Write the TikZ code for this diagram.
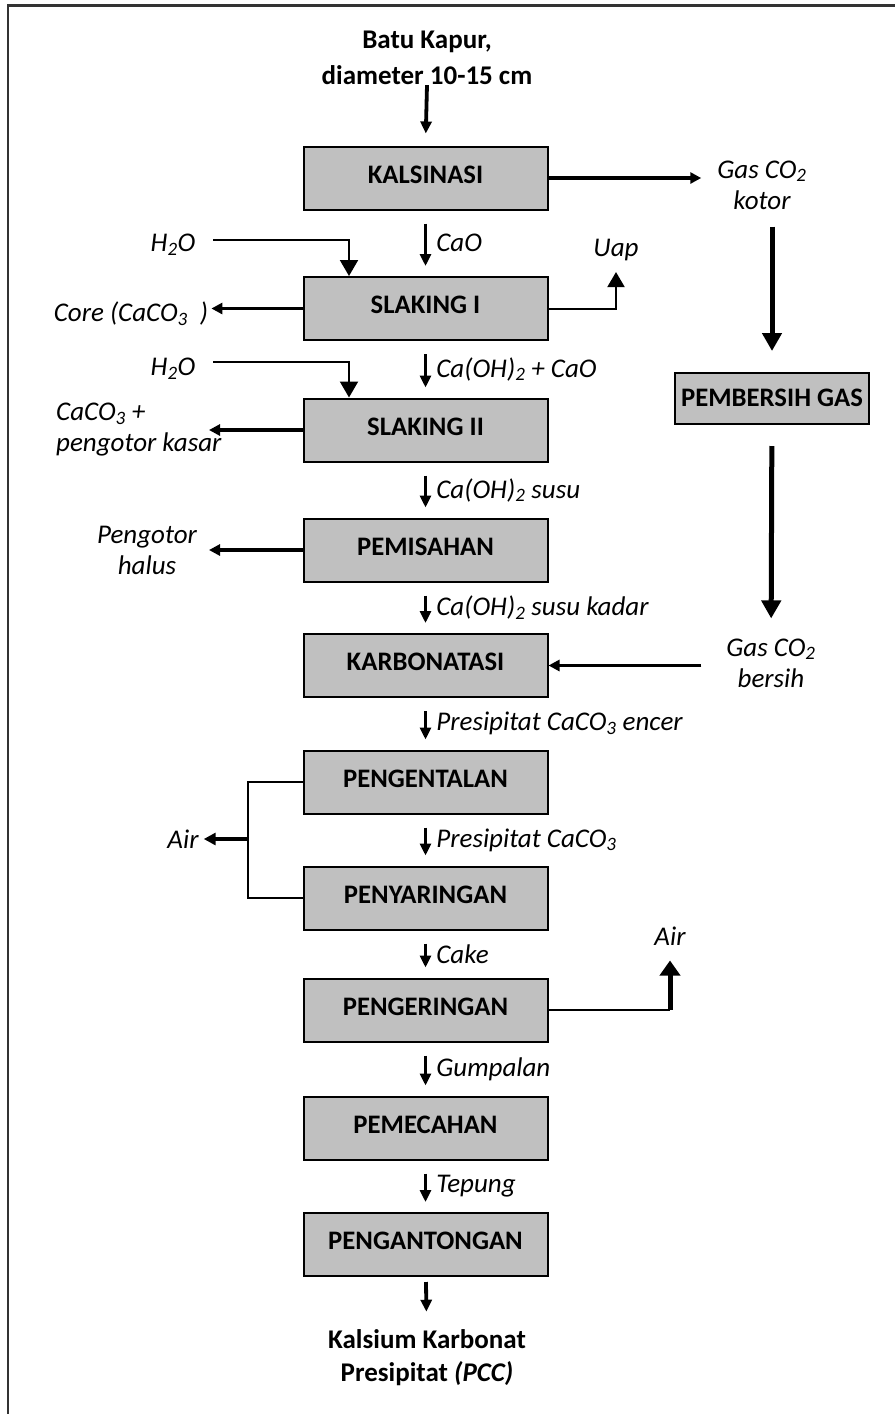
\documentclass[tikz,border=0pt]{standalone}
\usepackage{fontspec}
\setmainfont{Carlito}
\usetikzlibrary{arrows.meta,positioning,calc}
\definecolor{boxgray}{HTML}{C0C0C0}
\definecolor{frameink}{HTML}{333333}
\tikzset{
  procbox/.style={draw=black,fill=boxgray,line width=2pt,
                  minimum width=244pt,minimum height=63pt,text depth=7pt,
                  align=center,font=\fontsize{26.7}{32}\selectfont\bfseries,inner sep=4pt},
  flowlbl/.style={font=\fontsize{27}{31}\selectfont\itshape,inner sep=3pt,
                  anchor=west,xshift=6pt},
  sidelbl/.style={font=\fontsize{27}{31}\selectfont\itshape,align=center,inner sep=3pt},
  mainlbl/.style={font=\fontsize{27}{36}\selectfont\bfseries,align=center,inner sep=3pt},
  flowarr/.style={-{Triangle[length=12pt,width=11pt]},line width=3.8pt,
                  shorten <=13pt,shorten >=10pt},
  sidearr/.style={-{Triangle[length=11pt,width=11pt]},line width=3.2pt},
  feedarr/.style={-{Triangle[length=16pt,width=18pt]},line width=2pt},
  bigarr/.style={-{Triangle[length=18pt,width=19pt]},line width=5pt},
  thinline/.style={line width=2pt},
  uaparr/.style={-{Triangle[length=15pt,width=17pt]},line width=2pt},
  ventarr/.style={-{Triangle[length=15pt,width=20pt]},line width=5pt},
  airarr/.style={-{Triangle[length=12pt,width=12pt]},line width=4.5pt}
}

\begin{document}
\begin{tikzpicture}[x=1pt,y=-1pt]
  \useasboundingbox (0,0) rectangle (895,1414);
  \draw[frameink,line width=2.5pt] (8,1414) -- (8,5.5) -- (895,5.5);

  \node[mainlbl] (feed) at (427,58) {Batu Kapur,\\diameter 10-15 cm};
  \node[procbox] (kals) at (425.5,178) {KALSINASI};
  \node[procbox] (slak1) at (425.5,308.5) {SLAKING I};
  \node[procbox] (slak2) at (425.5,430) {SLAKING II};
  \node[procbox] (pemis) at (425.5,550) {PEMISAHAN};
  \node[procbox] (karb) at (425.5,665.5) {KARBONATASI};
  \node[procbox] (kent) at (425.5,782) {PENGENTALAN};
  \node[procbox] (saring) at (425.5,898) {PENYARINGAN};
  \node[procbox] (kering) at (425.5,1010) {PENGERINGAN};
  \node[procbox] (pecah) at (425.5,1128) {PEMECAHAN};
  \node[procbox] (kantong) at (425.5,1244.5) {PENGANTONGAN};
  \node[mainlbl,font=\fontsize{27}{33}\selectfont\bfseries] (pcc) at (427,1358)
    {Kalsium Karbonat\\Presipitat \textit{(PCC)}};

  \node[procbox,minimum width=194pt,minimum height=51pt,text depth=2pt] (gas) at (772,398.5) {PEMBERSIH GAS};
  \node[sidelbl] (kotor) at (762,185) {Gas CO\textsubscript{2}\\kotor};
  \node[sidelbl] (bersih) at (771,663) {Gas CO\textsubscript{2}\\bersih};

  \node[sidelbl] (h2oA) at (173,245) {H\textsubscript{2}O};
  \node[sidelbl] (h2oB) at (173,369) {H\textsubscript{2}O};
  \node[sidelbl] (core) at (131,314) {Core (CaCO\textsubscript{3}\ \ )};
  \node[sidelbl,align=left,anchor=west] (kasar) at (53,430) {CaCO\textsubscript{3} +\\pengotor kasar};
  \node[sidelbl] (halus) at (147,550) {Pengotor\\halus};
  \node[sidelbl] (uap) at (616,250) {Uap};
  \node[sidelbl] (airL) at (183,839) {Air};
  \node[sidelbl] (airR) at (670,936) {Air};

  \coordinate (kasartip) at (209,428);
  \coordinate (halustip) at (209,550);
  \coordinate (airbus) at (248,839);

  \draw[flowarr,shorten <=0pt,shorten >=12pt] ([yshift=3pt]feed.south) -- (kals.north);
  \draw[flowarr] (kals) -- node[flowlbl]{CaO} (slak1);
  \draw[flowarr] (slak1) -- node[flowlbl]{Ca(OH)\textsubscript{2} + CaO} (slak2);
  \draw[flowarr] (slak2) -- node[flowlbl]{Ca(OH)\textsubscript{2} susu} (pemis);
  \draw[flowarr] (pemis) -- node[flowlbl]{Ca(OH)\textsubscript{2} susu kadar} (karb);
  \draw[flowarr] (karb) -- node[flowlbl]{Presipitat CaCO\textsubscript{3} encer} (kent);
  \draw[flowarr] (kent) -- node[flowlbl]{Presipitat CaCO\textsubscript{3}} (saring);
  \draw[flowarr] (saring) -- node[flowlbl]{Cake} (kering);
  \draw[flowarr] (kering) -- node[flowlbl]{Gumpalan} (pecah);
  \draw[flowarr] (pecah) -- node[flowlbl]{Tepung} (kantong);
  \draw[flowarr,shorten <=5pt,shorten >=15pt] (kantong) -- (pcc);

  \draw[sidearr,shorten >=13pt] (kals) -- (kals -| kotor.west);
  \draw[bigarr,shorten <=14pt,shorten >=21pt] (kotor.south -| gas) -- (gas.north);
  \draw[bigarr,shorten <=21pt,shorten >=17pt] (gas) -- (bersih);
  \draw[sidearr,shorten <=22pt] (karb -| bersih.west) -- (karb);

  \draw[feedarr] ([xshift=15pt,yshift=5pt]h2oA.east) -| ([xshift=-76.5pt]slak1.north);
  \draw[feedarr] ([xshift=15pt,yshift=7pt]h2oB.east) -| ([xshift=-76.5pt]slak2.north);
  \draw[sidearr] (slak1.west) -- (slak1.west -| core.east);
  \draw[sidearr,line width=3.5pt] (slak2.west) -- (slak2.west -| kasartip);
  \draw[sidearr,line width=3.5pt] (pemis.west) -- (halustip);
  \draw[uaparr,shorten >=8pt] (slak1.east) -| (uap.south);

  \draw[thinline] (kent.west) -- (kent.west -| airbus) -- (saring.west -| airbus) -- (saring.west);
  \draw[airarr,shorten >=2pt] (airbus) -- (airL.east);
  \draw[thinline] (kering.east) -- (kering.east -| airR);
  \draw[ventarr,shorten >=12pt] (kering.east -| airR) -- (airR.south);
\end{tikzpicture}
\end{document}
